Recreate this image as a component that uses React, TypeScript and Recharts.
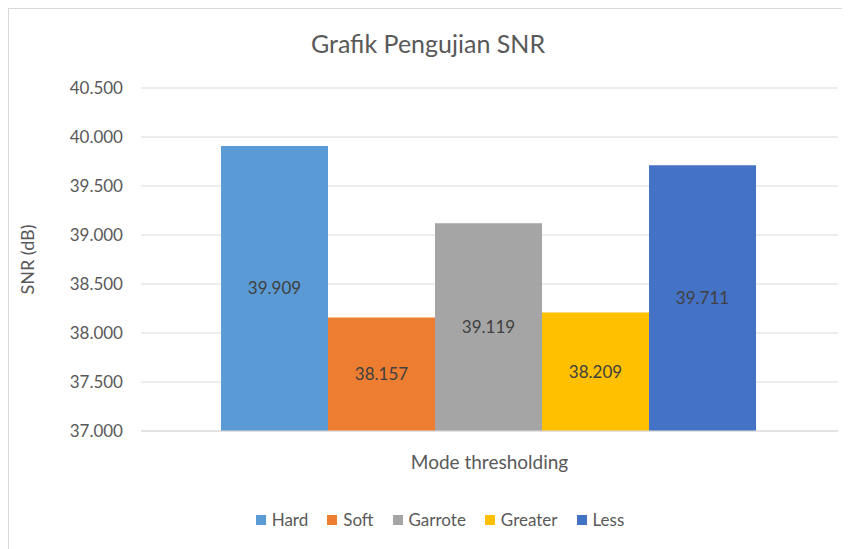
import {
  BarChart,
  Bar,
  XAxis,
  YAxis,
  CartesianGrid,
  Legend,
  LabelList,
} from 'recharts';

// Data
const seriesNames = ['Hard', 'Soft', 'Garrote', 'Greater', 'Less'];
const snrValues = [39.909, 38.157, 39.119, 38.209, 39.711];
const seriesColors = ['#5B9BD5', '#ED7D31', '#A5A5A5', '#FFC000', '#4472C4'];
const yTicks = [37, 37.5, 38, 38.5, 39, 39.5, 40, 40.5];

const FONT = 'Lato, "Open Sans", sans-serif';

const chartData = [
  seriesNames.reduce<Record<string, number | string>>(
    (row, name, i) => {
      row[name] = snrValues[i];
      return row;
    },
    { name: 'SNR' }
  ),
];

const fmt = (v: number) => v.toFixed(3);

// keep legend in series order (recharts sorts by name otherwise)
const LegendContent = () => (
  <div style={{ display: 'flex', justifyContent: 'center', fontFamily: FONT }}>
    {seriesNames.map((name, i) => (
      <div
        key={name}
        style={{
          display: 'flex',
          alignItems: 'center',
          marginRight: i === seriesNames.length - 1 ? 0 : 19,
        }}
      >
        <span
          style={{
            width: 10,
            height: 10,
            background: seriesColors[i],
            marginRight: 6,
            display: 'inline-block',
          }}
        />
        <span style={{ color: '#595959', fontSize: 17 }}>{name}</span>
      </div>
    ))}
  </div>
);

const App = () => {
  return (
    <div
      style={{
        position: 'relative',
        width: 850,
        height: 560,
        borderTop: '1px solid #d9d9d9',
        borderLeft: '1px solid #d9d9d9',
        background: '#fff',
        fontFamily: FONT,
      }}
    >
      <div
        style={{
          position: 'absolute',
          top: 19,
          left: 0,
          width: 838,
          textAlign: 'center',
          fontSize: 25,
          color: '#595959',
        }}
      >
        Grafik Pengujian SNR
      </div>
      <BarChart
        width={840}
        height={540}
        data={chartData}
        margin={{ top: 79, right: 11, left: 0, bottom: 78 }}
        barCategoryGap={80}
        barGap={0}
      >
        <CartesianGrid vertical={false} stroke="#d9d9d9" />
        <XAxis
          dataKey="name"
          tick={false}
          tickLine={false}
          axisLine={{ stroke: '#d9d9d9' }}
          height={40}
          label={{
            value: 'Mode thresholding',
            position: 'insideBottom',
            offset: 2,
            fill: '#595959',
            fontSize: 19,
            fontFamily: FONT,
          }}
        />
        <YAxis
          width={132}
          domain={[37, 40.5]}
          ticks={yTicks}
          tickFormatter={fmt}
          tickLine={false}
          axisLine={false}
          tickSize={0}
          tickMargin={18}
          tick={{ fill: '#595959', fontSize: 17, fontFamily: FONT }}
          label={{
            value: 'SNR (dB)',
            angle: -90,
            position: 'insideLeft',
            offset: 19,
            fill: '#595959',
            fontSize: 18,
            fontFamily: FONT,
            style: { textAnchor: 'middle' },
          }}
        />
        <Legend
          verticalAlign="middle"
          align="center"
          layout="horizontal"
          wrapperStyle={{ top: 500, left: 0, width: 862, height: 22 }}
          content={<LegendContent />}
        />
        {seriesNames.map((name, i) => (
          <Bar
            key={name}
            dataKey={name}
            fill={seriesColors[i]}
            isAnimationActive={false}
          >
            <LabelList
              dataKey={name}
              position="center"
              formatter={(v: any) => fmt(Number(v))}
              fill="#404040"
              fontSize={17}
              fontFamily={FONT}
            />
          </Bar>
        ))}
      </BarChart>
    </div>
  );
};

export default App;
